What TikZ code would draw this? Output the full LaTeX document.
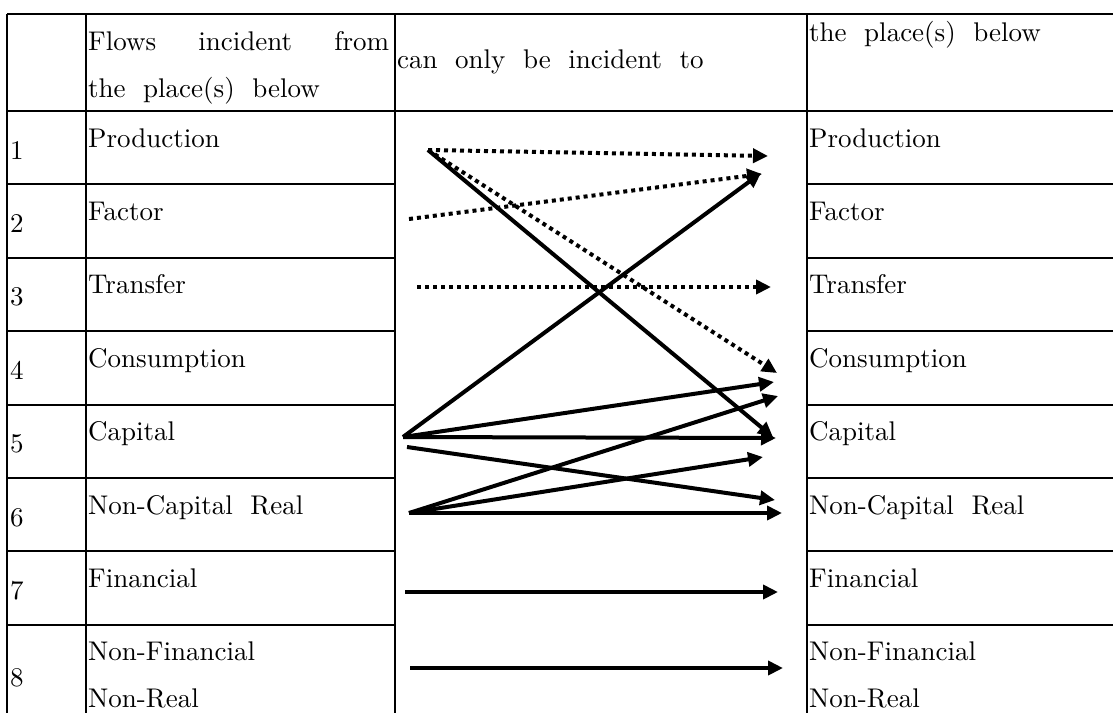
\documentclass[tikz,border=0pt]{standalone}
\usepackage{fontspec}
\setmainfont{lmroman10}[Extension=.otf, UprightFont=*-regular, BoldFont=*-bold, ItalicFont=*-italic, BoldItalicFont=*-bolditalic]
\usetikzlibrary{arrows.meta}
\DeclareRobustCommand{\lblfont}{\fontsize{27}{48}\selectfont\spaceskip=0.65em\relax}
\begin{document}
\begin{tikzpicture}[x=1pt,y=-1pt,
  grid/.style={line width=2pt},
  flow/.style={line width=4pt,-{Triangle[length=15pt,width=14pt]}},
  dflow/.style={flow,dash pattern=on 4pt off 4pt},
  lbl/.style={anchor=base west,inner sep=0pt,font=\lblfont},
]
\useasboundingbox (0,0) rectangle (1113,713);
% table grid
\draw[grid] (7,14) -- (1113,14);
\draw[grid] (7,111) -- (1113,111);
\draw[grid] (7,14) -- (7,713);
\draw[grid] (86,14) -- (86,713);
\draw[grid] (395,14) -- (395,713);
\draw[grid] (807,14) -- (807,713);
\foreach \yy in {184.4,257.8,331.2,404.6,478,551.4,624.8}{
  \draw[grid] (7,\yy) -- (395,\yy);
  \draw[grid] (807,\yy) -- (1113,\yy);
}
% header
\node[lbl] (h1a) at (88,50) {\makebox[301pt]{Flows\hfill incident\hfill from}};
\node[lbl] (h1b) at (88,97) {the place(s) below};
\node[lbl] (h2) at (397,68) {can only be incident to};
\node[lbl] (h3) at (809,41) {the place(s) below};
% numbers
\node[lbl] (n1) at (10,159) {1};
\node[lbl] (n2) at (10,232.4) {2};
\node[lbl] (n3) at (10,305.8) {3};
\node[lbl] (n4) at (10,379.2) {4};
\node[lbl] (n5) at (10,452.6) {5};
\node[lbl] (n6) at (10,526) {6};
\node[lbl] (n7) at (10,599.4) {7};
\node[lbl] (n8) at (10,686) {8};
% left names
\node[lbl] (l1) at (88,147) {Production};
\node[lbl] (l2) at (88,220.4) {Factor};
\node[lbl] (l3) at (88,293.8) {Transfer};
\node[lbl] (l4) at (88,367.2) {Consumption};
\node[lbl] (l5) at (88,440.6) {Capital};
\node[lbl] (l6) at (88,514) {Non-Capital Real};
\node[lbl] (l7) at (88,587.4) {Financial};
\node[lbl] (l8a) at (88,660.8) {Non-Financial};
\node[lbl] (l8b) at (88,707) {Non-Real};
% right names
\node[lbl] (r1) at (809,147) {Production};
\node[lbl] (r2) at (809,220.4) {Factor};
\node[lbl] (r3) at (809,293.8) {Transfer};
\node[lbl] (r4) at (809,367.2) {Consumption};
\node[lbl] (r5) at (809,440.6) {Capital};
\node[lbl] (r6) at (809,514) {Non-Capital Real};
\node[lbl] (r7) at (809,587.4) {Financial};
\node[lbl] (r8a) at (809,660.8) {Non-Financial};
\node[lbl] (r8b) at (809,707) {Non-Real};
% sources
\coordinate (sA) at (428,150);
\coordinate (sF) at (409,219);
\coordinate (sT) at (417,287);
\coordinate (sB) at (403,437);
\coordinate (sC) at (407,447);
\coordinate (sE) at (409,513);
\coordinate (sG) at (405,592);
\coordinate (sH) at (410,668);
% targets
\coordinate (tD1) at (768,156);
\coordinate (tD2) at (762,174);
\coordinate (tD3) at (777,373);
\coordinate (tD4) at (771,287);
\coordinate (tS1) at (773,437);
\coordinate (tS2) at (761,173);
\coordinate (tS3) at (774,382);
\coordinate (tS4) at (776,438);
\coordinate (tS5) at (775,500);
\coordinate (tS6) at (778,396);
\coordinate (tS7) at (763,457);
\coordinate (tS8) at (782,513);
\coordinate (tG) at (778,592);
\coordinate (tH) at (783,668);
% flows
\draw[dflow] (sA) -- (tD1);
\draw[dflow] (sF) -- (tD2);
\draw[dflow] (sA) -- (tD3);
\draw[dflow] (sT) -- (tD4);
\draw[flow] (sA) -- (tS1);
\draw[flow] (sB) -- (tS2);
\draw[flow] (sB) -- (tS3);
\draw[flow] (sB) -- (tS4);
\draw[flow] (sC) -- (tS5);
\draw[flow] (sE) -- (tS6);
\draw[flow] (sE) -- (tS7);
\draw[flow] (sE) -- (tS8);
\draw[flow] (sG) -- (tG);
\draw[flow] (sH) -- (tH);
\end{tikzpicture}
\end{document}
